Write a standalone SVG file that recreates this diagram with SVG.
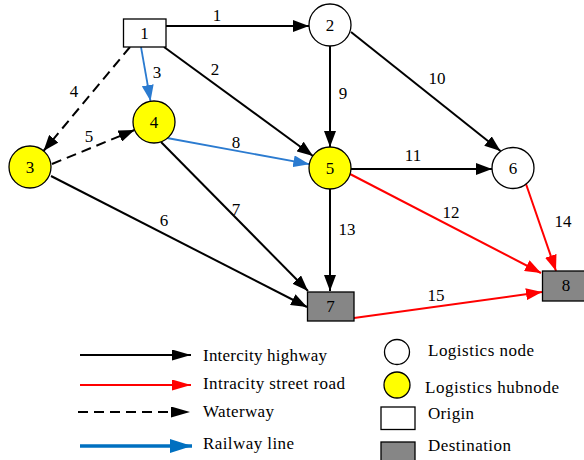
<svg xmlns="http://www.w3.org/2000/svg" width="584" height="460" viewBox="0 0 584 460">
<style>
text{font-family:"Liberation Serif","Times New Roman",serif;fill:#000}
.nl{font-size:17px;text-anchor:middle}
.el{font-size:17px;text-anchor:middle}
.lg{font-size:17px}
.hw{stroke:#000;stroke-width:2;fill:none}
.rd{stroke:#ff0000;stroke-width:2;fill:none}
.rw{stroke:#2b7bd0;stroke-width:1.8;fill:none}
.ww{stroke:#000;stroke-width:2;fill:none;stroke-dasharray:10,6}
.wn{fill:#fff;stroke:#000;stroke-width:1.3}
.hn{fill:#ffff00;stroke:#000;stroke-width:1.3}
.dn{fill:#868686;stroke:#000;stroke-width:1.3}
</style>
<defs>
<marker id="ak" markerWidth="16" markerHeight="12" refX="16" refY="6" orient="auto" markerUnits="userSpaceOnUse"><path d="M0,0 L16,6 L0,12 z" fill="#000"/></marker>
<marker id="ar" markerWidth="16" markerHeight="12" refX="16" refY="6" orient="auto" markerUnits="userSpaceOnUse"><path d="M0,0 L16,6 L0,12 z" fill="#ff0000"/></marker>
<marker id="ab" markerWidth="16" markerHeight="12" refX="16" refY="6" orient="auto" markerUnits="userSpaceOnUse"><path d="M0,0 L16,6 L0,12 z" fill="#2b7bd0"/></marker>
<marker id="lk" markerWidth="19" markerHeight="11" refX="19" refY="5.5" orient="auto" markerUnits="userSpaceOnUse"><path d="M0,0 L19,5.5 L0,11 z" fill="#000"/></marker>
<marker id="lr" markerWidth="19" markerHeight="11" refX="19" refY="5.5" orient="auto" markerUnits="userSpaceOnUse"><path d="M0,0 L19,5.5 L0,11 z" fill="#ff0000"/></marker>
<marker id="lb" markerWidth="22" markerHeight="14" refX="22" refY="7" orient="auto" markerUnits="userSpaceOnUse"><path d="M0,0 L22,7 L0,14 z" fill="#0070c0"/></marker>
</defs>
<rect width="584" height="460" fill="#fff"/>
<g id="connectors">
<line class="hw" x1="166" y1="26" x2="309" y2="26" marker-end="url(#ak)"/>
<line class="hw" x1="164" y1="47" x2="313" y2="156" marker-end="url(#ak)"/>
<line class="rw" x1="141" y1="47" x2="150.5" y2="101" marker-end="url(#ab)"/>
<line class="ww" x1="130" y1="47" x2="43.5" y2="151" marker-end="url(#ak)"/>
<line class="ww" x1="52" y1="164" x2="134.5" y2="130" marker-end="url(#ak)"/>
<line class="rw" x1="167" y1="138" x2="309.3" y2="164.2" marker-end="url(#ab)"/>
<line class="hw" x1="161" y1="142" x2="308" y2="291" marker-end="url(#ak)"/>
<line class="hw" x1="51" y1="176" x2="307" y2="307" marker-end="url(#ak)"/>
<line class="hw" x1="330" y1="46" x2="330" y2="147" marker-end="url(#ak)"/>
<line class="hw" x1="351" y1="32" x2="500.5" y2="151" marker-end="url(#ak)"/>
<line class="hw" x1="351" y1="169" x2="492" y2="169" marker-end="url(#ak)"/>
<line class="rd" x1="350" y1="174" x2="541" y2="273" marker-end="url(#ar)"/>
<line class="hw" x1="330" y1="189" x2="330" y2="291" marker-end="url(#ak)"/>
<line class="rd" x1="526" y1="184" x2="556" y2="271" marker-end="url(#ar)"/>
<line class="rd" x1="354" y1="318" x2="542" y2="292" marker-end="url(#ar)"/>
<text class="el" x="217" y="21">1</text>
<text class="el" x="215" y="75">2</text>
<text class="el" x="157" y="78">3</text>
<text class="el" x="74" y="97">4</text>
<text class="el" x="89" y="142">5</text>
<text class="el" x="164" y="226">6</text>
<text class="el" x="236" y="215">7</text>
<text class="el" x="236" y="148">8</text>
<text class="el" x="343" y="99">9</text>
<text class="el" x="437" y="84">10</text>
<text class="el" x="413" y="161">11</text>
<text class="el" x="451" y="218">12</text>
<text class="el" x="347" y="235">13</text>
<text class="el" x="563" y="227">14</text>
<text class="el" x="436" y="301">15</text>
</g>
<g id="n1"><rect class="wn" x="123.5" y="19" width="42.5" height="28"/><text class="nl" x="144.5" y="39">1</text></g>
<g id="n2"><circle class="wn" cx="330" cy="25" r="21"/><text class="nl" x="330" y="31">2</text></g>
<g id="n3"><circle class="hn" cx="30" cy="167" r="21"/><text class="nl" x="30" y="173">3</text></g>
<g id="n4"><circle class="hn" cx="154" cy="122" r="21"/><text class="nl" x="154" y="128">4</text></g>
<g id="n5"><circle class="hn" cx="330" cy="168" r="21"/><text class="nl" x="330" y="174">5</text></g>
<g id="n6"><ellipse class="wn" cx="513" cy="168" rx="21" ry="20.5"/><text class="nl" x="513" y="174">6</text></g>
<g id="n7"><rect class="dn" x="307.5" y="292" width="46.5" height="29"/><text class="nl" x="330.5" y="312">7</text></g>
<g id="n8"><rect class="dn" x="542.5" y="271" width="44" height="30"/><text class="nl" x="566" y="291">8</text></g>
<g id="legend">
<line class="hw" x1="80" y1="355" x2="191" y2="355" marker-end="url(#lk)"/>
<line class="rd" x1="80" y1="385" x2="191" y2="385" marker-end="url(#lr)"/>
<line class="ww" x1="78" y1="412" x2="190" y2="412" stroke-dasharray="12,8" marker-end="url(#lk)"/>
<line x1="80" y1="446" x2="192" y2="446" stroke="#0070c0" stroke-width="3.5" marker-end="url(#lb)"/>
<text class="lg" x="203" y="361" textLength="124" lengthAdjust="spacing">Intercity highway</text>
<text class="lg" x="203" y="389" textLength="142" lengthAdjust="spacing">Intracity street road</text>
<text class="lg" x="203" y="417" textLength="71" lengthAdjust="spacing">Waterway</text>
<text class="lg" x="203" y="449" textLength="91" lengthAdjust="spacing">Railway line</text>
<circle class="wn" cx="397" cy="352" r="12.5"/>
<circle class="hn" cx="397" cy="385" r="13"/>
<rect class="wn" x="381" y="407" width="34" height="22.5"/>
<rect class="dn" x="381" y="442" width="34" height="22"/>
<text class="lg" x="428" y="356" textLength="106" lengthAdjust="spacing">Logistics node</text>
<text class="lg" x="425" y="393" textLength="134" lengthAdjust="spacing">Logistics hubnode</text>
<text class="lg" x="428" y="419" textLength="46" lengthAdjust="spacing">Origin</text>
<text class="lg" x="428" y="451" textLength="83" lengthAdjust="spacing">Destination</text>
</g>
</svg>
